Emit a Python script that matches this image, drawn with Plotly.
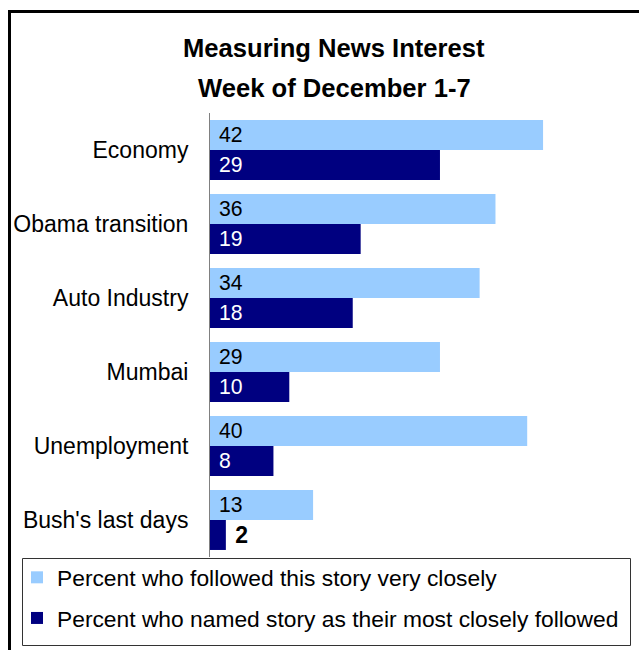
import plotly.graph_objects as go

categories = ["Economy", "Obama transition", "Auto Industry", "Mumbai", "Unemployment", "Bush's last days"]
very_closely = [42, 36, 34, 29, 40, 13]
most_closely = [29, 19, 18, 10, 8, 2]
series_names = ["Percent who followed this story very closely",
                "Percent who named story as their most closely followed"]
title_lines = ["Measuring News Interest", "Week of December 1-7"]

W, H = 639, 650
ML, MR, MT, MB = 210, 0, 113, 93
PW, PH = W - ML - MR, H - MT - MB


def px2x(px):
    return (px - ML) / PW


def px2y(py):
    return (H - MB - py) / PH


FONT = "Liberation Sans, Arial, sans-serif"

fig = go.Figure()
fig.add_trace(go.Bar(
    y=categories, x=very_closely, orientation="h", name=series_names[0],
    marker=dict(color="#99CCFF", line=dict(width=0)),
    texttemplate=" %{x}", textposition="auto", insidetextanchor="start", textangle=0,
    insidetextfont=dict(color="black", size=23, family=FONT),
    outsidetextfont=dict(color="black", size=23, family=FONT),
    legendgroup="a", hoverinfo="skip", cliponaxis=False,
))
fig.add_trace(go.Bar(
    y=categories, x=most_closely, orientation="h", name=series_names[1],
    marker=dict(color="#000080", line=dict(width=0)),
    texttemplate=" %{x}", textposition="auto", insidetextanchor="start", textangle=0,
    insidetextfont=dict(color="white", size=23, family=FONT),
    outsidetextfont=dict(color="black", size=23, family=FONT, weight="bold"),
    legendgroup="b", hoverinfo="skip", cliponaxis=False,
))

shapes = [
    # outer frame
    dict(type="rect", xref="paper", yref="paper",
         x0=px2x(9.5), x1=px2x(800), y0=px2y(11.5), y1=px2y(800),
         line=dict(color="black", width=3), fillcolor="rgba(0,0,0,0)", layer="below"),
    # legend box
    dict(type="rect", xref="paper", yref="paper",
         x0=px2x(22.5), x1=px2x(630.5), y0=px2y(558.5), y1=px2y(645.5),
         line=dict(color="#333333", width=1), fillcolor="white", layer="above"),
]

annotations = [
    dict(text=title_lines[0], xref="paper", yref="paper", x=px2x(334), y=px2y(48),
         xanchor="center", yanchor="middle", showarrow=False,
         font=dict(family=FONT, size=25.6, color="black", weight="bold")),
    dict(text=title_lines[1], xref="paper", yref="paper", x=px2x(334), y=px2y(88),
         xanchor="center", yanchor="middle", showarrow=False,
         font=dict(family=FONT, size=25.6, color="black", weight="bold")),
]

fig.update_layout(
    width=W, height=H,
    margin=dict(l=ML, r=MR, t=MT, b=MB, pad=0),
    paper_bgcolor="white", plot_bgcolor="white",
    barmode="group", bargap=0.19, bargroupgap=0,
    font=dict(family=FONT, color="black"),
    showlegend=True,
    legend=dict(x=px2x(17), y=px2y(556), xanchor="left", yanchor="top",
                xref="paper", yref="paper",
                bgcolor="rgba(0,0,0,0)", borderwidth=0,
                font=dict(family=FONT, size=22.8, color="black"),
                traceorder="grouped", tracegroupgap=8, itemclick=False,
                itemdoubleclick=False),
    xaxis=dict(range=[0, PW / 7.93], visible=False, fixedrange=True),
    yaxis=dict(autorange="reversed", showline=True, linecolor="#808080", linewidth=1,
               ticks="", showgrid=False, zeroline=False,
               tickfont=dict(family=FONT, size=23, color="black"),
               ticklabelstandoff=16, fixedrange=True),
    shapes=shapes, annotations=annotations,
)

fig.write_html("out.html")
